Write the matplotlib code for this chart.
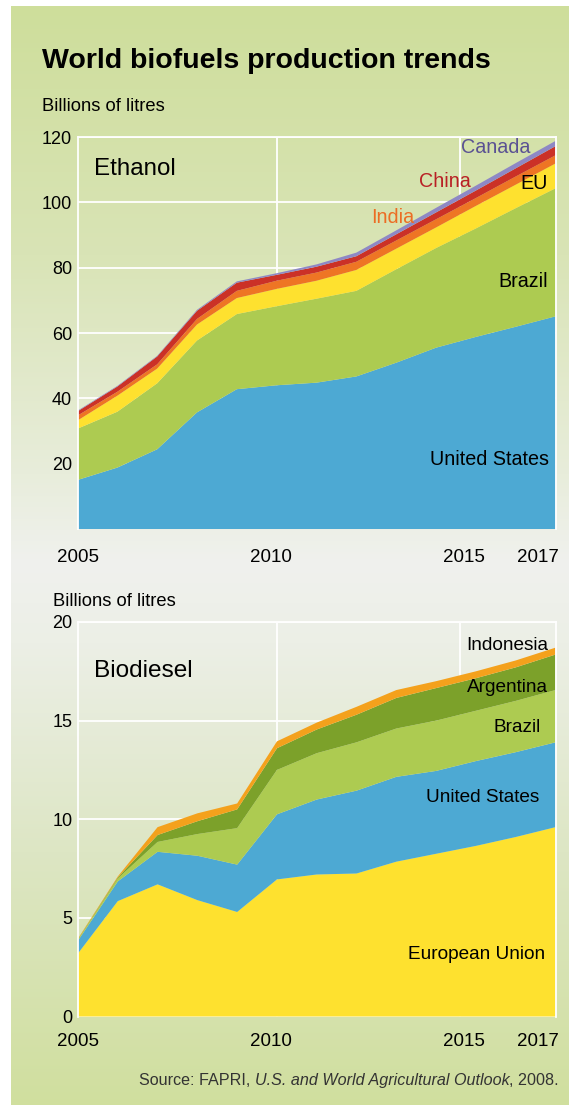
import numpy as np
import matplotlib
matplotlib.use('Agg')
import matplotlib.pyplot as plt
from matplotlib.colors import to_rgb

# ---- data (billions of litres) ----
years = np.arange(2005, 2018)

eth_names = ['United States', 'Brazil', 'EU', 'India', 'China', 'Canada']
eth_us = [15.0, 18.8, 24.4, 35.7, 42.8, 44.0, 44.8, 46.7, 50.9, 55.5, 58.8, 61.9, 65.1]
eth_brazil = [15.7, 17.1, 20.2, 22.0, 23.0, 24.2, 25.7, 26.2, 28.6, 30.5, 33.2, 36.3, 39.2]
eth_eu = [2.5, 4.9, 4.5, 4.9, 4.9, 5.3, 5.5, 6.4, 6.3, 6.3, 6.9, 7.2, 7.6]
eth_india = [1.5, 1.2, 1.3, 1.7, 2.2, 2.5, 2.5, 2.5, 2.5, 2.5, 2.4, 2.5, 2.5]
eth_china = [1.3, 1.6, 2.4, 2.5, 2.5, 1.8, 1.8, 1.7, 1.9, 2.1, 2.3, 2.5, 2.8]
eth_canada = [0.2, 0.2, 0.2, 0.3, 0.4, 0.5, 0.7, 1.1, 1.2, 1.4, 1.5, 1.6, 1.6]

bio_names = ['European Union', 'United States', 'Brazil', 'Argentina', 'Indonesia']
bio_eu = [3.2, 5.85, 6.7, 5.9, 5.3, 6.95, 7.2, 7.25, 7.85, 8.25, 8.65, 9.1, 9.6]
bio_us = [0.65, 1.0, 1.65, 2.25, 2.4, 3.3, 3.8, 4.2, 4.3, 4.2, 4.3, 4.3, 4.3]
bio_brazil = [0.05, 0.15, 0.5, 1.1, 1.85, 2.25, 2.35, 2.45, 2.45, 2.55, 2.55, 2.6, 2.65]
bio_argentina = [0.02, 0.05, 0.35, 0.65, 0.95, 1.1, 1.2, 1.4, 1.55, 1.65, 1.65, 1.7, 1.8]
bio_indonesia = [0.03, 0.05, 0.4, 0.4, 0.3, 0.35, 0.35, 0.4, 0.4, 0.35, 0.35, 0.35, 0.35]

eth_yticks = [20, 40, 60, 80, 100, 120]
bio_yticks = [0, 5, 10, 15, 20]
year_labels = ['2005', '2010', '2015', '2017']

# ---- styling ----
BLUE = '#4DA9D3'
LGREEN = '#ADCB51'
YELLOW = '#FEE12F'
ORANGE = '#EE7524'
RED = '#CB3127'
PURPLE = '#8E88C5'
DGREEN = '#7CA12A'
GOLD = '#F4A11C'

plt.rcParams['font.family'] = ['Liberation Sans', 'DejaVu Sans']

W, H = 569, 1105
fig = plt.figure(figsize=(W / 100, H / 100), dpi=100)


def fx(px):
    return px / W


def fy(py):
    return 1 - py / H


# background gradient panel (white margin on top and left)
bg = fig.add_axes([fx(11), 0, 1 - fx(11), 1 - 6 / H], zorder=-5)
stops_px = [0, 250, 470, 560, 640, 850, 1105]
stops_col = ['#CEDE9B', '#D9E4B6', '#E8EDDB', '#F0F1EE', '#ECEFE6', '#DDE6C4', '#D0DF9E']
rows = np.arange(H)
rgb = np.array([to_rgb(c) for c in stops_col])
grad = np.stack([np.interp(rows, stops_px, rgb[:, k]) for k in range(3)], axis=1)
bg.imshow(grad[:, None, :], aspect='auto', extent=[0, 1, 0, 1])
bg.axis('off')

# titles
fig.text(fx(42), fy(68), 'World biofuels production trends', fontsize=20.5,
         fontweight='bold', ha='left', va='baseline', color='black')
fig.text(fx(42), fy(111), 'Billions of litres', fontsize=13.2, ha='left', va='baseline')
fig.text(fx(53), fy(606), 'Billions of litres', fontsize=13.2, ha='left', va='baseline')


def style_axes(ax, ylim, yticks, grid_years, xpad):
    ax.set_facecolor('none')
    ax.set_xlim(2005, 2017)
    ax.set_ylim(*ylim)
    ax.set_yticks(yticks)
    ax.set_yticklabels([str(t) for t in yticks])
    ax.set_xticks([2005, 2009.85, 2014.7, 2016.55])
    ax.set_xticklabels(year_labels)
    ax.tick_params(axis='y', length=0, pad=4, labelsize=13)
    ax.tick_params(axis='x', length=0, pad=xpad, labelsize=13.5)
    ax.grid(axis='y', color='white', linewidth=1.3)
    for gx in grid_years:
        ax.axvline(gx, color='white', linewidth=1.3, zorder=0.5)
    ax.set_axisbelow(True)
    for side in ['left', 'top', 'right']:
        ax.spines[side].set_color('white')
        ax.spines[side].set_linewidth(1.3)
    ax.spines['bottom'].set_visible(False)


# ---- Ethanol ----
ax1 = fig.add_axes([fx(77.5), fy(529), fx(555.5) - fx(77.5), fy(137) - fy(529)])
ax1.stackplot(years, eth_us, eth_brazil, eth_eu, eth_india, eth_china, eth_canada,
              colors=[BLUE, LGREEN, YELLOW, ORANGE, RED, PURPLE], linewidth=0, zorder=2)
style_axes(ax1, (0, 120), eth_yticks, [2010, 2014.6], 14.5)

ax1.text(2005.41, 108.4, 'Ethanol', fontsize=17.4, ha='left', va='baseline')
lab = dict(fontsize=14.2, ha='right', va='baseline', zorder=5)
ax1.text(2016.36, 115.1, 'Canada', color='#5A5193', **lab)
ax1.text(2014.88, 104.7, 'China', color='#B92025', **lab)
ax1.text(2016.81, 104.1, 'EU', color='black', **lab)
ax1.text(2013.45, 93.7, 'India', color='#EC6D24', **lab)
ax1.text(2016.81, 74.1, 'Brazil', color='black', **lab)
ax1.text(2016.84, 19.6, 'United States', color='black', **lab)

# ---- Biodiesel ----
ax2 = fig.add_axes([fx(78), fy(1016.5), fx(555.5) - fx(78), fy(622) - fy(1016.5)])
ax2.stackplot(years, bio_eu, bio_us, bio_brazil, bio_argentina, bio_indonesia,
              colors=[YELLOW, BLUE, LGREEN, DGREEN, GOLD], linewidth=0, zorder=2)
style_axes(ax2, (0, 20), bio_yticks, [2010, 2014.6], 12)

ax2.text(2005.4, 17.21, 'Biodiesel', fontsize=17.6, ha='left', va='baseline')
lab2 = dict(fontsize=13.7, ha='right', va='baseline', color='black', zorder=5)
ax2.text(2016.81, 18.58, 'Indonesia', **lab2)
ax2.text(2016.81, 16.45, 'Argentina', **lab2)
ax2.text(2016.64, 14.42, 'Brazil', **lab2)
ax2.text(2016.6, 10.87, 'United States', **lab2)
ax2.text(2016.74, 2.92, 'European Union', **lab2)

# ---- source line: mixed roman / italic, right aligned ----
renderer = fig.canvas.get_renderer()
src_parts = [(', 2008.', 'normal'),
             ('U.S. and World Agricultural Outlook', 'italic'),
             ('Source: FAPRI, ', 'normal')]
x_right = 559
for txt, style in src_parts:
    t = fig.text(fx(x_right), fy(1085), txt, fontsize=11.6, style=style,
                 ha='right', va='baseline', color='#333333')
    bb = t.get_window_extent(renderer=renderer)
    x_right -= bb.width

fig.savefig('out.png', dpi=100)
